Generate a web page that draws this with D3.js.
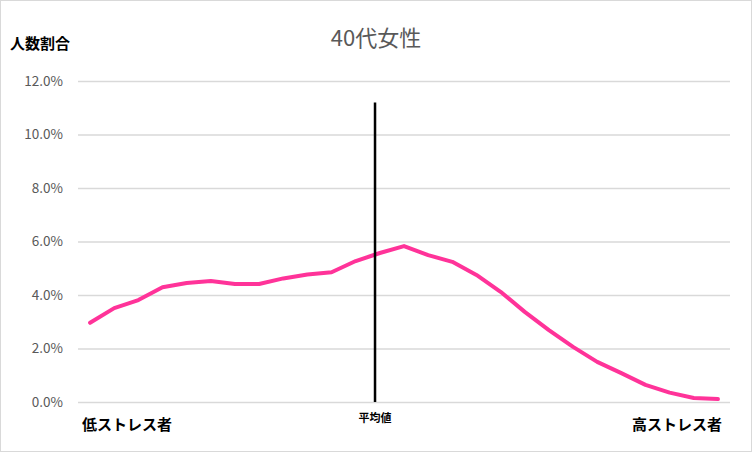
<!DOCTYPE html>
<html><head><meta charset="utf-8">
<script src="https://cdn.jsdelivr.net/npm/d3@7"></script>
<style>body{margin:0;background:#fff}svg{display:block}</style>
</head><body><svg id="c" width="752" height="452"></svg>
<script>
const title = "40代女性";
const yAxisTitle = "人数割合";
const categories = d3.range(1, 28).map(d => "群" + d);
const values = [2.96,3.51,3.81,4.29,4.45,4.52,4.41,4.41,4.62,4.77,4.85,5.27,5.57,5.83,5.49,5.24,4.75,4.12,3.37,2.69,2.06,1.50,1.08,0.64,0.35,0.15,0.11];
const yTicks = [0,2,4,6,8,10,12];
const meanPosition = 11.8;
const meanLineTop = 11.2;
const lowLabel = "低ストレス者", meanLabel = "平均値", highLabel = "高ストレス者";

const W = 752, H = 452;
const m = {left: 78, right: 22, top: 81, bottom: 50};
const svg = d3.select("#c");
const font = "'Noto Sans CJK JP','Noto Sans',sans-serif";

svg.append("rect").attr("x",0.5).attr("y",0.5).attr("width",W-1).attr("height",H-1)
  .attr("fill","#fff").attr("stroke","#d9d9d9");

const x = d3.scaleBand().domain(categories).range([m.left, W - m.right]);
const xi = d3.scaleLinear().domain([-0.5, categories.length - 0.5]).range([m.left, W - m.right]);
const y = d3.scaleLinear().domain([0, 12]).range([H - m.bottom, m.top]);

const grid = svg.append("g").attr("transform", `translate(${m.left},0)`)
  .call(d3.axisLeft(y).tickValues(yTicks).tickSize(-(W - m.left - m.right)).tickFormat(d => d.toFixed(1) + "%"));
grid.select(".domain").remove();
grid.selectAll(".tick line").attr("stroke","#d9d9d9").attr("stroke-width",1.3);
grid.selectAll(".tick text").attr("x",-15).attr("fill","#595959").style("font-family",font).style("font-size","13.5px");

const line = d3.line().x((d,i) => x(categories[i]) + x.bandwidth()/2).y(d => y(d));
svg.append("path").datum(values).attr("d", line).attr("fill","none")
  .attr("stroke","#ff3399").attr("stroke-width",4).attr("stroke-linejoin","round").attr("stroke-linecap","round");

svg.append("line").attr("x1", xi(meanPosition)).attr("x2", xi(meanPosition))
  .attr("y1", y(meanLineTop)).attr("y2", y(0)).attr("stroke","#000").attr("stroke-width",2.5);

svg.append("text").attr("x", W/2).attr("y", 46).attr("text-anchor","middle")
  .attr("fill","#595959").style("font-family",font).style("font-size","22px").text(title);
svg.append("text").attr("x", 10).attr("y", 49).attr("fill","#000")
  .style("font-family",font).style("font-size","15px").style("font-weight","bold").text(yAxisTitle);

svg.append("text").attr("x", m.left + 4).attr("y", 430).attr("fill","#000")
  .style("font-family",font).style("font-size","15px").style("font-weight","bold").text(lowLabel);
svg.append("text").attr("x", xi(meanPosition)).attr("y", 422).attr("text-anchor","middle").attr("fill","#000")
  .style("font-family",font).style("font-size","11px").style("font-weight","bold").text(meanLabel);
svg.append("text").attr("x", W - m.right - 8).attr("y", 430).attr("text-anchor","end").attr("fill","#000")
  .style("font-family",font).style("font-size","15px").style("font-weight","bold").text(highLabel);
</script></body></html>
